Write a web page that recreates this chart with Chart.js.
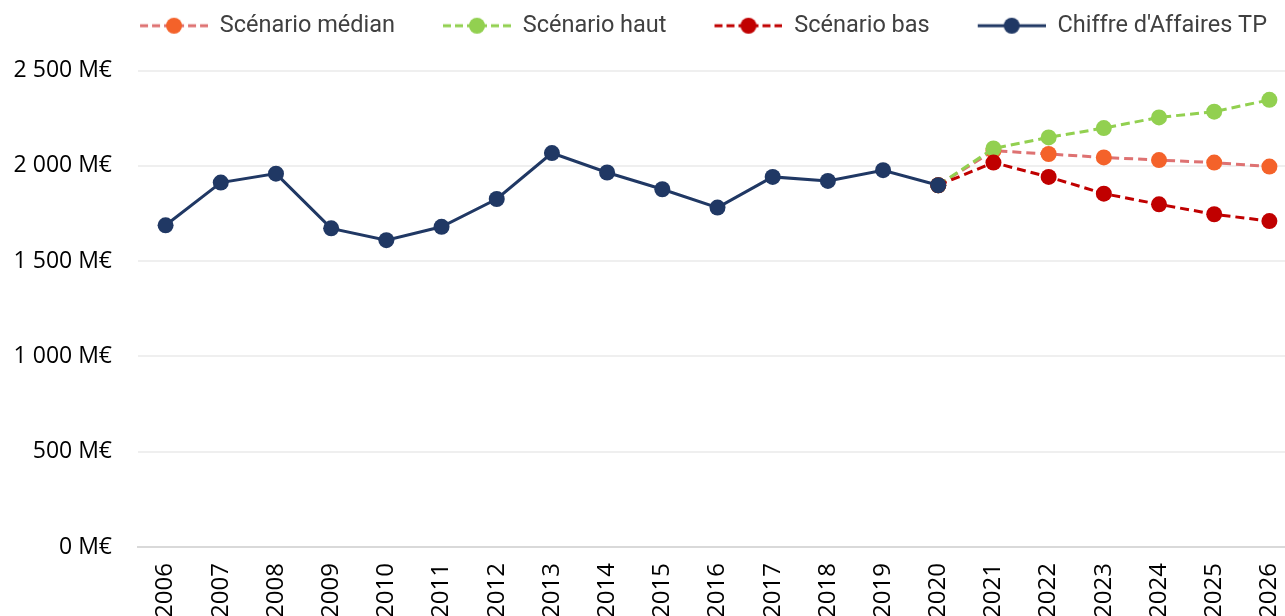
<!DOCTYPE html>
<html>
<head>
<meta charset="utf-8">
<script src="https://cdn.jsdelivr.net/npm/chart.js@4"></script>
<style>
  html, body { margin: 0; padding: 0; background: #fff; overflow: hidden; }
  #wrap { width: 1305px; height: 640px; }
</style>
</head>
<body>
<div id="wrap"><canvas id="chart"></canvas></div>
<script>
const years = ['2006', '2007', '2008', '2009', '2010', '2011', '2012', '2013', '2014', '2015', '2016',
  '2017', '2018', '2019', '2020', '2021', '2022', '2023', '2024', '2025', '2026'];

// chiffre d'affaires historique (M€)
const chiffreAffaires = [1688, 1912, 1959, 1672, 1610, 1680, 1826, 2067, 1965, 1877, 1781,
  1942, 1921, 1977, 1898, null, null, null, null, null, null];

// projections, partant de 2020
const scenarioMedian = [null, null, null, null, null, null, null, null, null, null, null,
  null, null, null, 1898, 2079, 2062, 2044, 2030, 2017, 1996];
const scenarioHaut = [null, null, null, null, null, null, null, null, null, null, null,
  null, null, null, 1898, 2091, 2149, 2198, 2254, 2284, 2346];
const scenarioBas = [null, null, null, null, null, null, null, null, null, null, null,
  null, null, null, 1898, 2017, 1942, 1854, 1798, 1746, 1710];

const yTicks = { min: 0, max: 2500, step: 500 };

const NAVY = '#203864';
const GREEN = '#92d050';
const RED = '#c00000';
const ORANGE = '#f4622a';
const PINK = '#de7272';

const FONT_AXIS = "'Open Sans', sans-serif";
const FONT_LEGEND = "Roboto, sans-serif";

// petit dessin de légende : trait (pointillé ou non) + rond
const legendIcon = (lineColor, dotColor, dashed) => {
  const margin = 38, len = 68;
  const c = document.createElement('canvas');
  c.width = margin + len;
  c.height = 20;
  const ctx = c.getContext('2d');
  ctx.strokeStyle = lineColor;
  ctx.lineWidth = 3;
  if (dashed) ctx.setLineDash([8, 4]);
  ctx.beginPath();
  ctx.moveTo(margin, 10);
  ctx.lineTo(margin + len, 10);
  ctx.stroke();
  ctx.fillStyle = dotColor;
  ctx.beginPath();
  ctx.arc(margin + len / 2, 10, 8, 0, Math.PI * 2);
  ctx.fill();
  return c;
};

const icons = [
  legendIcon(PINK, ORANGE, true),
  legendIcon(GREEN, GREEN, true),
  legendIcon(RED, RED, true),
  legendIcon(NAVY, NAVY, false),
];

const formatMEUR = (v) => String(v).replace(/\B(?=(\d{3})+(?!\d))/g, ' ') + ' M€';

const dashedSerie = (label, data, line, dot, order) => ({
  label: label,
  data: data,
  borderColor: line,
  backgroundColor: dot,
  pointBackgroundColor: dot,
  pointBorderColor: dot,
  borderWidth: 3,
  borderDash: [9, 5],
  pointRadius: 8,
  pointBorderWidth: 0,
  pointHoverRadius: 8,
  spanGaps: false,
  order: order,
});

// espace sous la légende, et légende un peu décalée vers la droite
const legendGap = {
  id: 'legendGap',
  beforeInit(chart) {
    const fit = chart.legend.fit;
    chart.legend.fit = function () {
      fit.bind(chart.legend)();
      this.height += 23;
    };
  },
  afterLayout(chart) {
    chart.legend.left += 27;
    chart.legend.right += 27;
  }
};

new Chart(document.getElementById('chart'), {
  type: 'line',
  plugins: [legendGap],
  data: {
    labels: years,
    datasets: [
      dashedSerie('Scénario médian', scenarioMedian, PINK, ORANGE, 3),
      dashedSerie('Scénario haut', scenarioHaut, GREEN, GREEN, 2),
      dashedSerie('Scénario bas', scenarioBas, RED, RED, 1),
      {
        label: "Chiffre d'Affaires TP",
        data: chiffreAffaires,
        borderColor: NAVY,
        backgroundColor: NAVY,
        pointBackgroundColor: NAVY,
        borderWidth: 3,
        pointRadius: 8,
        pointBorderWidth: 0,
        pointHoverRadius: 8,
        order: 0,
      },
    ]
  },
  options: {
    responsive: true,
    maintainAspectRatio: false,
    animation: false,
    layout: {
      padding: { left: 10, right: 0, top: 4, bottom: 6 }
    },
    plugins: {
      tooltip: { enabled: false },
      legend: {
        position: 'top',
        align: 'center',
        labels: {
          usePointStyle: true,
          pointStyleWidth: 106,
          padding: 10,
          color: '#404040',
          font: { family: FONT_LEGEND, size: 23.5 },
          sort: (a, b) => a.datasetIndex - b.datasetIndex,
          generateLabels: (chart) => {
            const items = Chart.defaults.plugins.legend.labels.generateLabels(chart);
            items.forEach((it) => { it.pointStyle = icons[it.datasetIndex]; });
            return items;
          }
        }
      }
    },
    scales: {
      x: {
        offset: true,
        grid: { display: false, drawTicks: false },
        border: { display: true, color: '#d9d9d9', width: 2 },
        afterFit: (scale) => { scale.paddingRight = 0; scale.paddingLeft = 0; },
        ticks: {
          autoSkip: false,
          minRotation: 90,
          maxRotation: 90,
          padding: 16,
          color: '#000',
          font: { family: FONT_AXIS, size: 24 }
        }
      },
      y: {
        min: yTicks.min,
        max: yTicks.max,
        grid: { color: '#efefef', lineWidth: 2, drawTicks: false },
        border: { display: false },
        afterFit: (scale) => { scale.width = 128; },
        ticks: {
          stepSize: yTicks.step,
          padding: 26,
          color: '#000',
          font: { family: FONT_AXIS, size: 23 },
          callback: (v) => formatMEUR(v)
        }
      }
    }
  }
});
</script>
</body>
</html>
